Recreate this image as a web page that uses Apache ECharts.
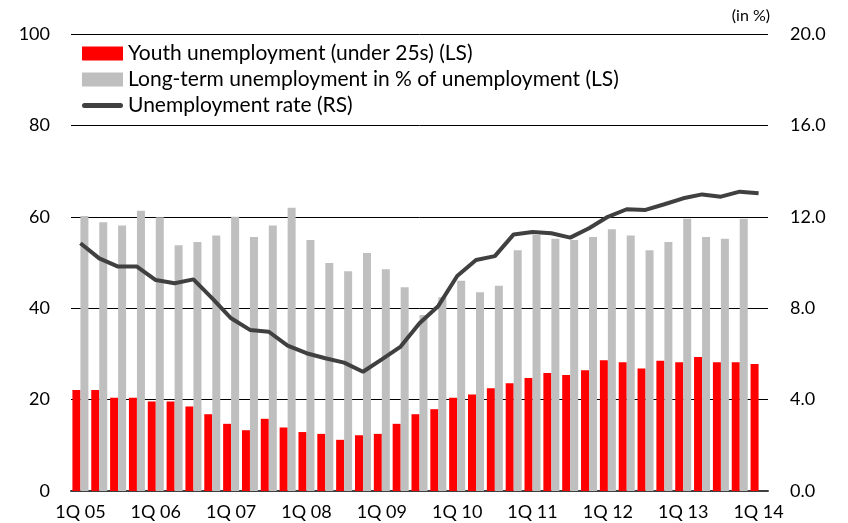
<!DOCTYPE html>
<html>
<head>
<meta charset="utf-8">
<script src="https://cdn.jsdelivr.net/npm/echarts@6/dist/echarts.min.js"></script>
<style>
  html, body { margin: 0; padding: 0; background: #fff; }
  #chart { width: 848px; height: 523px; }
</style>
</head>
<body>
<div id="chart"></div>
<script>
var categories = [
  '1Q 05','2Q 05','3Q 05','4Q 05','1Q 06','2Q 06','3Q 06','4Q 06',
  '1Q 07','2Q 07','3Q 07','4Q 07','1Q 08','2Q 08','3Q 08','4Q 08',
  '1Q 09','2Q 09','3Q 09','4Q 09','1Q 10','2Q 10','3Q 10','4Q 10',
  '1Q 11','2Q 11','3Q 11','4Q 11','1Q 12','2Q 12','3Q 12','4Q 12',
  '1Q 13','2Q 13','3Q 13','4Q 13','1Q 14'
];
var youth = [22.1,22.1,20.4,20.4,19.6,19.6,18.5,16.8,14.7,13.3,
  15.8,13.9,12.9,12.5,11.2,12.2,12.5,14.7,16.8,17.9,
  20.4,21.1,22.5,23.6,24.7,25.8,25.4,26.4,28.6,28.2,
  26.8,28.5,28.2,29.3,28.2,28.2,27.8];
var longTerm = [60.2,58.8,58.1,61.3,59.9,53.8,54.5,55.9,60.0,55.6,
  58.1,62.0,54.9,49.9,48.1,52.1,48.5,44.6,38.5,42.4,
  46.0,43.5,44.9,52.7,56.0,55.2,54.9,55.6,57.3,55.9,
  52.7,54.5,59.6,55.6,55.2,59.6,null];
var rate = [10.84,10.18,9.82,9.82,9.23,9.09,9.26,8.43,7.56,7.05,
  6.97,6.36,6.03,5.81,5.62,5.22,5.76,6.32,7.34,8.1,
  9.41,10.11,10.28,11.23,11.33,11.28,11.09,11.5,12.0,12.33,
  12.3,12.55,12.81,12.98,12.88,13.1,13.03];

var font = 'Lato, "Open Sans", sans-serif';
var lineIcon = 'path://M2.5,0 L38.5,0 A2.5,2.5 0 0 1 38.5,5 L2.5,5 A2.5,2.5 0 0 1 2.5,0 Z';
var chart = echarts.init(document.getElementById('chart'));
var option = {
  animation: false,
  textStyle: { fontFamily: font },
  grid: { left: 71, right: 80, top: 34, bottom: 32, containLabel: false },
  graphic: [{
    type: 'text', right: 78, top: 8,
    style: { text: '(in %)', font: '16px ' + font, fill: '#000' }
  }],
  legend: {
    orient: 'vertical', left: 77, top: 38,
    itemWidth: 41, itemHeight: 14, itemGap: 5,
    textStyle: { fontSize: 21, color: '#000', fontFamily: font },
    data: [
      { name: 'Youth unemployment (under 25s) (LS)', icon: 'rect' },
      { name: 'Long-term unemployment in % of unemployment (LS)', icon: 'rect' },
      { name: 'Unemployment rate (RS)', icon: lineIcon, itemStyle: { color: '#404040' } }
    ]
  },
  xAxis: {
    type: 'category',
    data: categories,
    axisTick: { show: false },
    axisLine: { lineStyle: { color: '#404040', width: 2 } },
    axisLabel: { interval: 3, color: '#000', fontSize: 18, margin: 12, fontFamily: font }
  },
  yAxis: [{
    type: 'value', min: 0, max: 100, interval: 20,
    axisLine: { show: false }, axisTick: { show: false },
    splitLine: { lineStyle: { color: '#000', width: 1 } },
    axisLabel: { color: '#000', fontSize: 18, margin: 21, fontFamily: font }
  }, {
    type: 'value', min: 0, max: 20, interval: 4,
    axisLine: { show: false }, axisTick: { show: false },
    splitLine: { show: false },
    axisLabel: { color: '#000', fontSize: 18, margin: 22, fontFamily: font,
      formatter: function (v) { return v.toFixed(1); } }
  }],
  series: [{
    name: 'Youth unemployment (under 25s) (LS)',
    type: 'bar', data: youth, barWidth: 8, barGap: '0%',
    itemStyle: { color: '#ff0000' }
  }, {
    name: 'Long-term unemployment in % of unemployment (LS)',
    type: 'bar', data: longTerm, barWidth: 8, barGap: '0%',
    itemStyle: { color: '#bfbfbf' }
  }, {
    name: 'Unemployment rate (RS)',
    type: 'line', yAxisIndex: 1, data: rate,
    symbol: 'none',
    lineStyle: { color: '#404040', width: 4 },
    itemStyle: { color: '#404040' }
  }]
};
chart.setOption(option);
</script>
</body>
</html>
